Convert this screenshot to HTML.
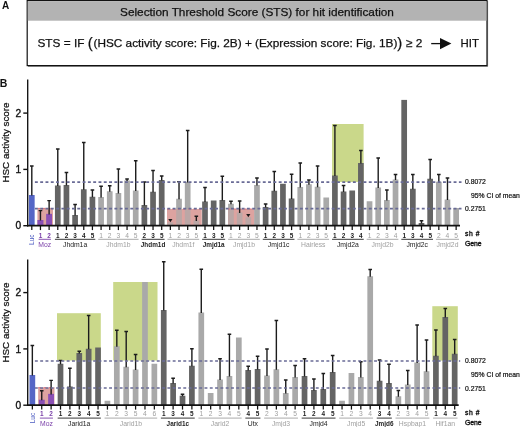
<!DOCTYPE html>
<html><head><meta charset="utf-8"><title>Figure</title>
<style>html,body{margin:0;padding:0;background:#fff}svg{display:block}</style></head>
<body>
<svg width="520" height="427" viewBox="0 0 520 427" font-family="'Liberation Sans', Arial, sans-serif">
<rect width="520" height="427" fill="#fff"/>
<rect x="27.2" y="0.6" width="459.8" height="65" fill="#fff" stroke="#111" stroke-width="1.2"/>
<rect x="27.8" y="1.2" width="458.6" height="19.5" fill="#b3b3b3"/>
<path d="M487.6 1V66.4H28" stroke="#333" stroke-width="1" fill="none" opacity="0.6"/>
<text x="2" y="9" font-size="10" font-weight="bold" fill="#111">A</text>
<text x="-0.3" y="87.2" font-size="10.5" font-weight="bold" fill="#111">B</text>
<text x="257" y="15.6" text-anchor="middle" font-size="11.8" fill="#111" stroke="#111" stroke-width="0.25">Selection Threshold Score (STS) for hit identification</text>
<text x="37.5" y="47.2" font-size="11.8" fill="#111" stroke="#111" stroke-width="0.25">STS = IF <tspan font-size="15" dy="1.2">(</tspan><tspan dy="-1.2" dx="0.8">(HSC activity score: Fig. 2B) + (Expression score: Fig. 1B)</tspan><tspan font-size="15" dy="1.2">)</tspan><tspan dy="-1.2" dx="0.4"> ≥ 2</tspan></text>
<path d="M431.2 43.6H442" stroke="#111" stroke-width="1.3"/><path d="M440 37.9L451.4 43.6L440 49.3z" fill="#111"/>
<text x="460.5" y="47.2" font-size="11.4" fill="#111" stroke="#111" stroke-width="0.25">HIT</text>
<rect x="332" y="124" width="31.60" height="58.00" fill="#cad88a"/>
<rect x="37.5" y="208.4" width="15.50" height="17.30" fill="#dea4a0"/>
<rect x="167" y="209" width="34.70" height="16.70" fill="#dea4a0"/>
<rect x="228" y="209" width="26.20" height="16.70" fill="#dea4a0"/>
<rect x="28.95" y="195" width="5.7" height="30.70" fill="#5566c6"/>
<rect x="37.61" y="220" width="5.7" height="5.70" fill="#8a50b4"/>
<rect x="46.27" y="213.9" width="5.7" height="11.80" fill="#8a50b4"/>
<rect x="54.93" y="185.5" width="5.7" height="40.20" fill="#646464"/>
<rect x="63.59" y="185" width="5.7" height="40.70" fill="#646464"/>
<rect x="72.25" y="215" width="5.7" height="10.70" fill="#646464"/>
<rect x="80.91" y="189.25" width="5.7" height="36.45" fill="#646464"/>
<rect x="89.57" y="196.75" width="5.7" height="28.95" fill="#646464"/>
<rect x="98.23" y="197" width="5.7" height="28.70" fill="#a9a9a9"/>
<rect x="106.89" y="191.25" width="5.7" height="34.45" fill="#a9a9a9"/>
<rect x="115.55" y="193" width="5.7" height="32.70" fill="#a9a9a9"/>
<rect x="124.21" y="180.5" width="5.7" height="45.20" fill="#a9a9a9"/>
<rect x="132.87" y="190.5" width="5.7" height="35.20" fill="#a9a9a9"/>
<rect x="141.53" y="205" width="5.7" height="20.70" fill="#646464"/>
<rect x="150.19" y="191.75" width="5.7" height="33.95" fill="#646464"/>
<rect x="158.85" y="180" width="5.7" height="45.70" fill="#646464"/>
<rect x="167.51" y="222.3" width="5.7" height="3.40" fill="#a9a9a9"/>
<rect x="176.17" y="198.75" width="5.7" height="26.95" fill="#a9a9a9"/>
<rect x="184.83" y="182" width="5.7" height="43.70" fill="#a9a9a9"/>
<rect x="193.49" y="220.5" width="5.7" height="5.20" fill="#a9a9a9"/>
<rect x="202.15" y="201.5" width="5.7" height="24.20" fill="#646464"/>
<rect x="210.81" y="200.5" width="5.7" height="25.20" fill="#646464"/>
<rect x="219.47" y="200" width="5.7" height="25.70" fill="#646464"/>
<rect x="228.13" y="203.75" width="5.7" height="21.95" fill="#a9a9a9"/>
<rect x="236.79" y="212.5" width="5.7" height="13.20" fill="#a9a9a9"/>
<rect x="245.45" y="217.3" width="5.7" height="8.40" fill="#a9a9a9"/>
<rect x="254.11" y="185" width="5.7" height="40.70" fill="#a9a9a9"/>
<rect x="262.77" y="207" width="5.7" height="18.70" fill="#646464"/>
<rect x="271.43" y="190.75" width="5.7" height="34.95" fill="#646464"/>
<rect x="280.09" y="183.75" width="5.7" height="41.95" fill="#646464"/>
<rect x="288.75" y="198.5" width="5.7" height="27.20" fill="#646464"/>
<rect x="297.41" y="187" width="5.7" height="38.70" fill="#a9a9a9"/>
<rect x="306.07" y="184.25" width="5.7" height="41.45" fill="#a9a9a9"/>
<rect x="314.73" y="186.75" width="5.7" height="38.95" fill="#a9a9a9"/>
<rect x="323.39" y="197.5" width="5.7" height="28.20" fill="#a9a9a9"/>
<rect x="332.05" y="175.5" width="5.7" height="50.20" fill="#646464"/>
<rect x="340.71" y="191.5" width="5.7" height="34.20" fill="#646464"/>
<rect x="349.37" y="190.5" width="5.7" height="35.20" fill="#646464"/>
<rect x="358.03" y="163" width="5.7" height="62.70" fill="#646464"/>
<rect x="366.69" y="201.25" width="5.7" height="24.45" fill="#a9a9a9"/>
<rect x="375.35" y="187.5" width="5.7" height="38.20" fill="#a9a9a9"/>
<rect x="384.01" y="200" width="5.7" height="25.70" fill="#a9a9a9"/>
<rect x="392.67" y="179.5" width="5.7" height="46.20" fill="#a9a9a9"/>
<rect x="401.33" y="99.9" width="5.7" height="125.80" fill="#646464"/>
<rect x="409.99" y="188.75" width="5.7" height="36.95" fill="#646464"/>
<rect x="418.65" y="223" width="5.7" height="2.70" fill="#646464"/>
<rect x="427.31" y="178.75" width="5.7" height="46.95" fill="#646464"/>
<rect x="435.97" y="181.75" width="5.7" height="43.95" fill="#a9a9a9"/>
<rect x="444.63" y="199.5" width="5.7" height="26.20" fill="#a9a9a9"/>
<rect x="453.29" y="208" width="5.7" height="17.70" fill="#a9a9a9"/>
<rect x="37.5" y="208.4" width="15.50" height="17.30" fill="#dea4a0" fill-opacity="0.35"/>
<path d="M37.5 208.4H53" stroke="#d8707c" stroke-width="1" stroke-dasharray="2.6 2.7" fill="none"/>
<rect x="167" y="209" width="34.70" height="16.70" fill="#dea4a0" fill-opacity="0.35"/>
<path d="M167 209H201.7" stroke="#d8707c" stroke-width="1" stroke-dasharray="2.6 2.7" fill="none"/>
<rect x="228" y="209" width="26.20" height="16.70" fill="#dea4a0" fill-opacity="0.35"/>
<path d="M228 209H254.2" stroke="#d8707c" stroke-width="1" stroke-dasharray="2.6 2.7" fill="none"/>
<rect x="37.61" y="220" width="5.7" height="5.70" fill="#8a50b4"/>
<rect x="46.27" y="213.9" width="5.7" height="11.80" fill="#8a50b4"/>
<path d="M31.80 195.5V166M30.00 166h3.6" stroke="#1c1c1c" stroke-width="1.4" fill="none"/>
<path d="M40.46 220.5V210.6M38.66 210.6h3.6" stroke="#1c1c1c" stroke-width="1.4" fill="none"/>
<path d="M49.12 214.4V200.6M47.32 200.6h3.6" stroke="#1c1c1c" stroke-width="1.4" fill="none"/>
<path d="M57.78 186.0V149M55.98 149h3.6" stroke="#1c1c1c" stroke-width="1.4" fill="none"/>
<path d="M66.44 185.5V172.5M64.64 172.5h3.6" stroke="#1c1c1c" stroke-width="1.4" fill="none"/>
<path d="M75.10 215.5V204.5M73.30 204.5h3.6" stroke="#1c1c1c" stroke-width="1.4" fill="none"/>
<path d="M83.76 189.75V142.5M81.96 142.5h3.6" stroke="#1c1c1c" stroke-width="1.4" fill="none"/>
<path d="M92.42 197.25V190M90.62 190h3.6" stroke="#1c1c1c" stroke-width="1.4" fill="none"/>
<path d="M101.08 197.5V186.25M99.28 186.25h3.6" stroke="#1c1c1c" stroke-width="1.4" fill="none"/>
<path d="M109.74 191.75V185.75M107.94 185.75h3.6" stroke="#1c1c1c" stroke-width="1.4" fill="none"/>
<path d="M118.40 193.5V169M116.60 169h3.6" stroke="#1c1c1c" stroke-width="1.4" fill="none"/>
<path d="M127.06 181.0V179M125.26 179h3.6" stroke="#1c1c1c" stroke-width="1.4" fill="none"/>
<path d="M135.72 191.0V160.75M133.92 160.75h3.6" stroke="#1c1c1c" stroke-width="1.4" fill="none"/>
<path d="M144.38 205.5V182M142.58 182h3.6" stroke="#1c1c1c" stroke-width="1.4" fill="none"/>
<path d="M153.04 192.25V170.5M151.24 170.5h3.6" stroke="#1c1c1c" stroke-width="1.4" fill="none"/>
<path d="M161.70 180.5V176M159.90 176h3.6" stroke="#1c1c1c" stroke-width="1.4" fill="none"/>
<path d="M168.26 219.10h4.2l-2.1 3.1z" fill="#1a1a1a"/>
<path d="M179.02 199.25V181.75M177.22 181.75h3.6" stroke="#1c1c1c" stroke-width="1.4" fill="none"/>
<path d="M187.68 182.5V130.5M185.88 130.5h3.6" stroke="#1c1c1c" stroke-width="1.4" fill="none"/>
<path d="M196.34 221.0V216.2M194.54 216.2h3.6" stroke="#1c1c1c" stroke-width="1.4" fill="none"/>
<path d="M205.00 202.0V187.5M203.20 187.5h3.6" stroke="#1c1c1c" stroke-width="1.4" fill="none"/>
<path d="M222.32 200.5V176.25M220.52 176.25h3.6" stroke="#1c1c1c" stroke-width="1.4" fill="none"/>
<path d="M230.98 204.25V201.25M229.18 201.25h3.6" stroke="#1c1c1c" stroke-width="1.4" fill="none"/>
<path d="M239.64 213.0V201M237.84 201h3.6" stroke="#1c1c1c" stroke-width="1.4" fill="none"/>
<path d="M246.20 214.10h4.2l-2.1 3.1z" fill="#1a1a1a"/>
<path d="M256.96 185.5V178M255.16 178h3.6" stroke="#1c1c1c" stroke-width="1.4" fill="none"/>
<path d="M265.62 207.5V204M263.82 204h3.6" stroke="#1c1c1c" stroke-width="1.4" fill="none"/>
<path d="M274.28 191.25V171.5M272.48 171.5h3.6" stroke="#1c1c1c" stroke-width="1.4" fill="none"/>
<path d="M291.60 199.0V174.25M289.80 174.25h3.6" stroke="#1c1c1c" stroke-width="1.4" fill="none"/>
<path d="M300.26 187.5V163M298.46 163h3.6" stroke="#1c1c1c" stroke-width="1.4" fill="none"/>
<path d="M308.92 184.75V180M307.12 180h3.6" stroke="#1c1c1c" stroke-width="1.4" fill="none"/>
<path d="M317.58 187.25V166M315.78 166h3.6" stroke="#1c1c1c" stroke-width="1.4" fill="none"/>
<path d="M334.90 176.0V125.5M333.10 125.5h3.6" stroke="#1c1c1c" stroke-width="1.4" fill="none"/>
<path d="M343.56 192.0V185.5M341.76 185.5h3.6" stroke="#1c1c1c" stroke-width="1.4" fill="none"/>
<path d="M360.88 163.5V150.5M359.08 150.5h3.6" stroke="#1c1c1c" stroke-width="1.4" fill="none"/>
<path d="M378.20 188.0V158M376.40 158h3.6" stroke="#1c1c1c" stroke-width="1.4" fill="none"/>
<path d="M386.86 200.5V190M385.06 190h3.6" stroke="#1c1c1c" stroke-width="1.4" fill="none"/>
<path d="M395.52 180.0V174.5M393.72 174.5h3.6" stroke="#1c1c1c" stroke-width="1.4" fill="none"/>
<path d="M412.84 189.25V174.5M411.04 174.5h3.6" stroke="#1c1c1c" stroke-width="1.4" fill="none"/>
<path d="M421.50 223.5V220.75M419.70 220.75h3.6" stroke="#1c1c1c" stroke-width="1.4" fill="none"/>
<path d="M430.16 179.25V159.5M428.36 159.5h3.6" stroke="#1c1c1c" stroke-width="1.4" fill="none"/>
<path d="M438.82 182.25V174.5M437.02 174.5h3.6" stroke="#1c1c1c" stroke-width="1.4" fill="none"/>
<path d="M447.48 200.0V178M445.68 178h3.6" stroke="#1c1c1c" stroke-width="1.4" fill="none"/>
<path d="M34.9 182.2H461.5" stroke="#696b96" stroke-width="1.7" stroke-dasharray="2.9 2.4" fill="none"/>
<path d="M34.9 208.6H461.5" stroke="#696b96" stroke-width="1.7" stroke-dasharray="2.9 2.4" fill="none"/>
<path d="M27.7 79.5V226.6" stroke="#111" stroke-width="1.35" fill="none"/>
<path d="M27 225.7H460.0" stroke="#111" stroke-width="1.8" fill="none"/>
<path d="M23.3 225.70H27.6" stroke="#111" stroke-width="1.4"/>
<text x="21.2" y="229.45" text-anchor="end" font-size="10.2" fill="#111" stroke="#111" stroke-width="0.35">0</text>
<path d="M23.3 169.40H27.6" stroke="#111" stroke-width="1.4"/>
<text x="21.2" y="173.15" text-anchor="end" font-size="10.2" fill="#111" stroke="#111" stroke-width="0.35">1</text>
<path d="M23.3 113.10H27.6" stroke="#111" stroke-width="1.4"/>
<text x="21.2" y="116.85" text-anchor="end" font-size="10.2" fill="#111" stroke="#111" stroke-width="0.35">2</text>
<path d="M31.80 225.7v4.4" stroke="#111" stroke-width="1.25"/>
<text transform="translate(34.20 245.00) rotate(-90)" font-size="6.6" fill="#4a5ac0">Luc</text>
<path d="M40.46 225.7v4.4" stroke="#111" stroke-width="1.25"/>
<text x="40.46" y="238.40" text-anchor="middle" font-size="6.4" font-weight="bold" fill="#7a3fa8">1</text>
<path d="M49.12 225.7v4.4" stroke="#111" stroke-width="1.25"/>
<text x="49.12" y="238.40" text-anchor="middle" font-size="6.4" font-weight="bold" fill="#7a3fa8">2</text>
<path d="M38.61 239.30H50.97" stroke="#7a3fa8" stroke-width="0.9"/>
<text x="44.79" y="247.00" text-anchor="middle" font-size="6.8" font-weight="normal" fill="#7a3fa8">Moz</text>
<path d="M57.78 225.7v4.4" stroke="#111" stroke-width="1.25"/>
<text x="57.78" y="238.40" text-anchor="middle" font-size="6.4" font-weight="bold" fill="#222">1</text>
<path d="M66.44 225.7v4.4" stroke="#111" stroke-width="1.25"/>
<text x="66.44" y="238.40" text-anchor="middle" font-size="6.4" font-weight="bold" fill="#222">2</text>
<path d="M75.10 225.7v4.4" stroke="#111" stroke-width="1.25"/>
<text x="75.10" y="238.40" text-anchor="middle" font-size="6.4" font-weight="bold" fill="#222">3</text>
<path d="M83.76 225.7v4.4" stroke="#111" stroke-width="1.25"/>
<text x="83.76" y="238.40" text-anchor="middle" font-size="6.4" font-weight="bold" fill="#222">4</text>
<path d="M92.42 225.7v4.4" stroke="#111" stroke-width="1.25"/>
<text x="92.42" y="238.40" text-anchor="middle" font-size="6.4" font-weight="bold" fill="#222">5</text>
<path d="M54.93 239.30H95.27" stroke="#222" stroke-width="0.9"/>
<text x="75.10" y="247.00" text-anchor="middle" font-size="6.8" font-weight="normal" fill="#222">Jhdm1a</text>
<path d="M101.08 225.7v4.4" stroke="#111" stroke-width="1.25"/>
<text x="101.08" y="238.40" text-anchor="middle" font-size="6.7" font-weight="normal" fill="#a0a0a0">1</text>
<path d="M109.74 225.7v4.4" stroke="#111" stroke-width="1.25"/>
<text x="109.74" y="238.40" text-anchor="middle" font-size="6.7" font-weight="normal" fill="#a0a0a0">2</text>
<path d="M118.40 225.7v4.4" stroke="#111" stroke-width="1.25"/>
<text x="118.40" y="238.40" text-anchor="middle" font-size="6.7" font-weight="normal" fill="#a0a0a0">3</text>
<path d="M127.06 225.7v4.4" stroke="#111" stroke-width="1.25"/>
<text x="127.06" y="238.40" text-anchor="middle" font-size="6.7" font-weight="normal" fill="#a0a0a0">4</text>
<path d="M135.72 225.7v4.4" stroke="#111" stroke-width="1.25"/>
<text x="135.72" y="238.40" text-anchor="middle" font-size="6.7" font-weight="normal" fill="#a0a0a0">5</text>
<path d="M98.23 239.30H138.57" stroke="#a0a0a0" stroke-width="0.9"/>
<text x="118.40" y="247.00" text-anchor="middle" font-size="6.8" font-weight="normal" fill="#a0a0a0">Jhdm1b</text>
<path d="M144.38 225.7v4.4" stroke="#111" stroke-width="1.25"/>
<text x="144.38" y="238.40" text-anchor="middle" font-size="6.4" font-weight="bold" fill="#222">2</text>
<path d="M153.04 225.7v4.4" stroke="#111" stroke-width="1.25"/>
<text x="153.04" y="238.40" text-anchor="middle" font-size="6.4" font-weight="bold" fill="#222">3</text>
<path d="M161.70 225.7v4.4" stroke="#111" stroke-width="1.25"/>
<text x="161.70" y="238.40" text-anchor="middle" font-size="6.4" font-weight="bold" fill="#222">5</text>
<path d="M141.53 239.30H164.55" stroke="#222" stroke-width="0.9"/>
<text x="153.04" y="247.00" text-anchor="middle" font-size="6.4" font-weight="bold" fill="#222">Jhdm1d</text>
<path d="M170.36 225.7v4.4" stroke="#111" stroke-width="1.25"/>
<text x="170.36" y="238.40" text-anchor="middle" font-size="6.7" font-weight="normal" fill="#a0a0a0">1</text>
<path d="M179.02 225.7v4.4" stroke="#111" stroke-width="1.25"/>
<text x="179.02" y="238.40" text-anchor="middle" font-size="6.7" font-weight="normal" fill="#a0a0a0">2</text>
<path d="M187.68 225.7v4.4" stroke="#111" stroke-width="1.25"/>
<text x="187.68" y="238.40" text-anchor="middle" font-size="6.7" font-weight="normal" fill="#a0a0a0">3</text>
<path d="M196.34 225.7v4.4" stroke="#111" stroke-width="1.25"/>
<text x="196.34" y="238.40" text-anchor="middle" font-size="6.7" font-weight="normal" fill="#a0a0a0">5</text>
<path d="M167.51 239.30H199.19" stroke="#a0a0a0" stroke-width="0.9"/>
<text x="183.35" y="247.00" text-anchor="middle" font-size="6.8" font-weight="normal" fill="#a0a0a0">Jhdm1f</text>
<path d="M205.00 225.7v4.4" stroke="#111" stroke-width="1.25"/>
<text x="205.00" y="238.40" text-anchor="middle" font-size="6.4" font-weight="bold" fill="#222">1</text>
<path d="M213.66 225.7v4.4" stroke="#111" stroke-width="1.25"/>
<text x="213.66" y="238.40" text-anchor="middle" font-size="6.4" font-weight="bold" fill="#222">3</text>
<path d="M222.32 225.7v4.4" stroke="#111" stroke-width="1.25"/>
<text x="222.32" y="238.40" text-anchor="middle" font-size="6.4" font-weight="bold" fill="#222">5</text>
<path d="M202.15 239.30H225.17" stroke="#222" stroke-width="0.9"/>
<text x="213.66" y="247.00" text-anchor="middle" font-size="6.4" font-weight="bold" fill="#222">Jmjd1a</text>
<path d="M230.98 225.7v4.4" stroke="#111" stroke-width="1.25"/>
<text x="230.98" y="238.40" text-anchor="middle" font-size="6.7" font-weight="normal" fill="#a0a0a0">1</text>
<path d="M239.64 225.7v4.4" stroke="#111" stroke-width="1.25"/>
<text x="239.64" y="238.40" text-anchor="middle" font-size="6.7" font-weight="normal" fill="#a0a0a0">2</text>
<path d="M248.30 225.7v4.4" stroke="#111" stroke-width="1.25"/>
<text x="248.30" y="238.40" text-anchor="middle" font-size="6.7" font-weight="normal" fill="#a0a0a0">3</text>
<path d="M256.96 225.7v4.4" stroke="#111" stroke-width="1.25"/>
<text x="256.96" y="238.40" text-anchor="middle" font-size="6.7" font-weight="normal" fill="#a0a0a0">5</text>
<path d="M228.13 239.30H259.81" stroke="#a0a0a0" stroke-width="0.9"/>
<text x="243.97" y="247.00" text-anchor="middle" font-size="6.8" font-weight="normal" fill="#a0a0a0">Jmjd1b</text>
<path d="M265.62 225.7v4.4" stroke="#111" stroke-width="1.25"/>
<text x="265.62" y="238.40" text-anchor="middle" font-size="6.4" font-weight="bold" fill="#222">1</text>
<path d="M274.28 225.7v4.4" stroke="#111" stroke-width="1.25"/>
<text x="274.28" y="238.40" text-anchor="middle" font-size="6.4" font-weight="bold" fill="#222">2</text>
<path d="M282.94 225.7v4.4" stroke="#111" stroke-width="1.25"/>
<text x="282.94" y="238.40" text-anchor="middle" font-size="6.4" font-weight="bold" fill="#222">3</text>
<path d="M291.60 225.7v4.4" stroke="#111" stroke-width="1.25"/>
<text x="291.60" y="238.40" text-anchor="middle" font-size="6.4" font-weight="bold" fill="#222">5</text>
<path d="M262.77 239.30H294.45" stroke="#222" stroke-width="0.9"/>
<text x="278.61" y="247.00" text-anchor="middle" font-size="6.8" font-weight="normal" fill="#222">Jmjd1c</text>
<path d="M300.26 225.7v4.4" stroke="#111" stroke-width="1.25"/>
<text x="300.26" y="238.40" text-anchor="middle" font-size="6.7" font-weight="normal" fill="#a0a0a0">1</text>
<path d="M308.92 225.7v4.4" stroke="#111" stroke-width="1.25"/>
<text x="308.92" y="238.40" text-anchor="middle" font-size="6.7" font-weight="normal" fill="#a0a0a0">2</text>
<path d="M317.58 225.7v4.4" stroke="#111" stroke-width="1.25"/>
<text x="317.58" y="238.40" text-anchor="middle" font-size="6.7" font-weight="normal" fill="#a0a0a0">3</text>
<path d="M326.24 225.7v4.4" stroke="#111" stroke-width="1.25"/>
<text x="326.24" y="238.40" text-anchor="middle" font-size="6.7" font-weight="normal" fill="#a0a0a0">5</text>
<path d="M297.41 239.30H329.09" stroke="#a0a0a0" stroke-width="0.9"/>
<text x="313.25" y="247.00" text-anchor="middle" font-size="6.8" font-weight="normal" fill="#a0a0a0">Hairless</text>
<path d="M334.90 225.7v4.4" stroke="#111" stroke-width="1.25"/>
<text x="334.90" y="238.40" text-anchor="middle" font-size="6.4" font-weight="bold" fill="#222">1</text>
<path d="M343.56 225.7v4.4" stroke="#111" stroke-width="1.25"/>
<text x="343.56" y="238.40" text-anchor="middle" font-size="6.4" font-weight="bold" fill="#222">2</text>
<path d="M352.22 225.7v4.4" stroke="#111" stroke-width="1.25"/>
<text x="352.22" y="238.40" text-anchor="middle" font-size="6.4" font-weight="bold" fill="#222">3</text>
<path d="M360.88 225.7v4.4" stroke="#111" stroke-width="1.25"/>
<text x="360.88" y="238.40" text-anchor="middle" font-size="6.4" font-weight="bold" fill="#222">4</text>
<path d="M332.05 239.30H363.73" stroke="#222" stroke-width="0.9"/>
<text x="347.89" y="247.00" text-anchor="middle" font-size="6.8" font-weight="normal" fill="#222">Jmjd2a</text>
<path d="M369.54 225.7v4.4" stroke="#111" stroke-width="1.25"/>
<text x="369.54" y="238.40" text-anchor="middle" font-size="6.7" font-weight="normal" fill="#a0a0a0">1</text>
<path d="M378.20 225.7v4.4" stroke="#111" stroke-width="1.25"/>
<text x="378.20" y="238.40" text-anchor="middle" font-size="6.7" font-weight="normal" fill="#a0a0a0">2</text>
<path d="M386.86 225.7v4.4" stroke="#111" stroke-width="1.25"/>
<text x="386.86" y="238.40" text-anchor="middle" font-size="6.7" font-weight="normal" fill="#a0a0a0">3</text>
<path d="M395.52 225.7v4.4" stroke="#111" stroke-width="1.25"/>
<text x="395.52" y="238.40" text-anchor="middle" font-size="6.7" font-weight="normal" fill="#a0a0a0">4</text>
<path d="M366.69 239.30H398.37" stroke="#a0a0a0" stroke-width="0.9"/>
<text x="382.53" y="247.00" text-anchor="middle" font-size="6.8" font-weight="normal" fill="#a0a0a0">Jmjd2b</text>
<path d="M404.18 225.7v4.4" stroke="#111" stroke-width="1.25"/>
<text x="404.18" y="238.40" text-anchor="middle" font-size="6.4" font-weight="bold" fill="#222">1</text>
<path d="M412.84 225.7v4.4" stroke="#111" stroke-width="1.25"/>
<text x="412.84" y="238.40" text-anchor="middle" font-size="6.4" font-weight="bold" fill="#222">3</text>
<path d="M421.50 225.7v4.4" stroke="#111" stroke-width="1.25"/>
<text x="421.50" y="238.40" text-anchor="middle" font-size="6.4" font-weight="bold" fill="#222">4</text>
<path d="M430.16 225.7v4.4" stroke="#111" stroke-width="1.25"/>
<text x="430.16" y="238.40" text-anchor="middle" font-size="6.4" font-weight="bold" fill="#222">5</text>
<path d="M401.33 239.30H433.01" stroke="#222" stroke-width="0.9"/>
<text x="417.17" y="247.00" text-anchor="middle" font-size="6.8" font-weight="normal" fill="#222">Jmjd2c</text>
<path d="M438.82 225.7v4.4" stroke="#111" stroke-width="1.25"/>
<text x="438.82" y="238.40" text-anchor="middle" font-size="6.7" font-weight="normal" fill="#a0a0a0">2</text>
<path d="M447.48 225.7v4.4" stroke="#111" stroke-width="1.25"/>
<text x="447.48" y="238.40" text-anchor="middle" font-size="6.7" font-weight="normal" fill="#a0a0a0">4</text>
<path d="M456.14 225.7v4.4" stroke="#111" stroke-width="1.25"/>
<text x="456.14" y="238.40" text-anchor="middle" font-size="6.7" font-weight="normal" fill="#a0a0a0">5</text>
<path d="M435.97 239.30H458.99" stroke="#a0a0a0" stroke-width="0.9"/>
<text x="447.48" y="247.00" text-anchor="middle" font-size="6.8" font-weight="normal" fill="#a0a0a0">Jmjd2d</text>
<text transform="translate(8.8 142.5) rotate(-90)" text-anchor="middle" font-size="9.8" fill="#111" stroke="#111" stroke-width="0.25">HSC activity score</text>
<text x="465" y="184.39999999999998" font-size="6.8" fill="#111" stroke="#111" stroke-width="0.2">0.8072</text>
<text x="471" y="197.70" font-size="6.8" fill="#111" stroke="#111" stroke-width="0.2">95% CI of mean</text>
<text x="465" y="211.1" font-size="6.8" fill="#111" stroke="#111" stroke-width="0.2">0.2751</text>
<text x="465" y="236.40" font-size="6.8" fill="#111" stroke="#111" stroke-width="0.35" textLength="14.5">sh #</text>
<text x="465" y="246.40" font-size="6.8" fill="#111" stroke="#111" stroke-width="0.35">Gene</text>
<rect x="57" y="313.2" width="43.80" height="47.30" fill="#cad88a"/>
<rect x="113.2" y="282" width="44.30" height="78.50" fill="#cad88a"/>
<rect x="432.3" y="306.2" width="25.50" height="54.40" fill="#cad88a"/>
<rect x="38.2" y="387.7" width="16.20" height="17.50" fill="#dea4a0"/>
<rect x="29.50" y="375" width="5.7" height="30.20" fill="#5566c6"/>
<rect x="38.88" y="399.8" width="5.7" height="5.40" fill="#8a50b4"/>
<rect x="48.27" y="393.9" width="5.7" height="11.30" fill="#8a50b4"/>
<rect x="57.66" y="363.75" width="5.7" height="41.45" fill="#646464"/>
<rect x="67.04" y="386.5" width="5.7" height="18.70" fill="#646464"/>
<rect x="76.43" y="353" width="5.7" height="52.20" fill="#646464"/>
<rect x="85.81" y="348.75" width="5.7" height="56.45" fill="#646464"/>
<rect x="95.19" y="347.5" width="5.7" height="57.70" fill="#646464"/>
<rect x="104.58" y="400.75" width="5.7" height="4.45" fill="#a9a9a9"/>
<rect x="113.97" y="346.25" width="5.7" height="58.95" fill="#a9a9a9"/>
<rect x="123.35" y="366.75" width="5.7" height="38.45" fill="#a9a9a9"/>
<rect x="132.74" y="369.5" width="5.7" height="35.70" fill="#a9a9a9"/>
<rect x="142.12" y="282" width="5.7" height="123.20" fill="#a9a9a9"/>
<rect x="151.50" y="363.75" width="5.7" height="41.45" fill="#a9a9a9"/>
<rect x="160.89" y="310" width="5.7" height="95.20" fill="#646464"/>
<rect x="170.28" y="383" width="5.7" height="22.20" fill="#646464"/>
<rect x="179.66" y="395.75" width="5.7" height="9.45" fill="#646464"/>
<rect x="189.04" y="365.75" width="5.7" height="39.45" fill="#646464"/>
<rect x="198.43" y="312.5" width="5.7" height="92.70" fill="#a9a9a9"/>
<rect x="207.81" y="393" width="5.7" height="12.20" fill="#a9a9a9"/>
<rect x="217.20" y="379.5" width="5.7" height="25.70" fill="#a9a9a9"/>
<rect x="226.59" y="376" width="5.7" height="29.20" fill="#a9a9a9"/>
<rect x="235.97" y="337.5" width="5.7" height="67.70" fill="#a9a9a9"/>
<rect x="245.35" y="370" width="5.7" height="35.20" fill="#646464"/>
<rect x="254.74" y="369" width="5.7" height="36.20" fill="#646464"/>
<rect x="264.12" y="375.5" width="5.7" height="29.70" fill="#a9a9a9"/>
<rect x="273.51" y="369.25" width="5.7" height="35.95" fill="#a9a9a9"/>
<rect x="282.89" y="393" width="5.7" height="12.20" fill="#a9a9a9"/>
<rect x="292.28" y="377" width="5.7" height="28.20" fill="#a9a9a9"/>
<rect x="301.67" y="376" width="5.7" height="29.20" fill="#646464"/>
<rect x="311.05" y="390" width="5.7" height="15.20" fill="#646464"/>
<rect x="320.44" y="389" width="5.7" height="16.20" fill="#646464"/>
<rect x="329.82" y="372" width="5.7" height="33.20" fill="#646464"/>
<rect x="339.20" y="400.75" width="5.7" height="4.45" fill="#a9a9a9"/>
<rect x="348.59" y="373" width="5.7" height="32.20" fill="#a9a9a9"/>
<rect x="357.97" y="377" width="5.7" height="28.20" fill="#a9a9a9"/>
<rect x="367.36" y="276.25" width="5.7" height="128.95" fill="#a9a9a9"/>
<rect x="376.75" y="380.75" width="5.7" height="24.45" fill="#646464"/>
<rect x="386.13" y="383" width="5.7" height="22.20" fill="#646464"/>
<rect x="395.51" y="396.25" width="5.7" height="8.95" fill="#a9a9a9"/>
<rect x="404.90" y="384.5" width="5.7" height="20.70" fill="#a9a9a9"/>
<rect x="414.28" y="362.5" width="5.7" height="42.70" fill="#a9a9a9"/>
<rect x="423.67" y="371.25" width="5.7" height="33.95" fill="#a9a9a9"/>
<rect x="433.06" y="355.75" width="5.7" height="49.45" fill="#646464"/>
<rect x="442.44" y="317" width="5.7" height="88.20" fill="#646464"/>
<rect x="451.82" y="353.75" width="5.7" height="51.45" fill="#646464"/>
<rect x="38.2" y="387.7" width="16.20" height="17.50" fill="#dea4a0" fill-opacity="0.35"/>
<path d="M38.2 387.7H54.4" stroke="#d8707c" stroke-width="1" stroke-dasharray="2.6 2.7" fill="none"/>
<rect x="38.88" y="399.8" width="5.7" height="5.40" fill="#8a50b4"/>
<rect x="48.27" y="393.9" width="5.7" height="11.30" fill="#8a50b4"/>
<path d="M32.35 375.5V345.5M30.55 345.5h3.6" stroke="#1c1c1c" stroke-width="1.4" fill="none"/>
<path d="M41.73 400.3V390.8M39.94 390.8h3.6" stroke="#1c1c1c" stroke-width="1.4" fill="none"/>
<path d="M51.12 394.4V380.4M49.32 380.4h3.6" stroke="#1c1c1c" stroke-width="1.4" fill="none"/>
<path d="M60.51 364.25V360.5M58.71 360.5h3.6" stroke="#1c1c1c" stroke-width="1.4" fill="none"/>
<path d="M69.89 387.0V368.25M68.09 368.25h3.6" stroke="#1c1c1c" stroke-width="1.4" fill="none"/>
<path d="M79.28 353.5V351.25M77.48 351.25h3.6" stroke="#1c1c1c" stroke-width="1.4" fill="none"/>
<path d="M88.66 349.25V315.5M86.86 315.5h3.6" stroke="#1c1c1c" stroke-width="1.4" fill="none"/>
<path d="M116.81 346.75V330.3M115.02 330.3h3.6" stroke="#1c1c1c" stroke-width="1.4" fill="none"/>
<path d="M126.20 367.25V331.5M124.40 331.5h3.6" stroke="#1c1c1c" stroke-width="1.4" fill="none"/>
<path d="M135.59 370.0V354.5M133.78 354.5h3.6" stroke="#1c1c1c" stroke-width="1.4" fill="none"/>
<path d="M163.74 310.5V261.75M161.94 261.75h3.6" stroke="#1c1c1c" stroke-width="1.4" fill="none"/>
<path d="M173.12 383.5V378.25M171.32 378.25h3.6" stroke="#1c1c1c" stroke-width="1.4" fill="none"/>
<path d="M182.51 396.25V394.25M180.71 394.25h3.6" stroke="#1c1c1c" stroke-width="1.4" fill="none"/>
<path d="M191.89 366.25V348.75M190.09 348.75h3.6" stroke="#1c1c1c" stroke-width="1.4" fill="none"/>
<path d="M201.28 313.0V269.25M199.48 269.25h3.6" stroke="#1c1c1c" stroke-width="1.4" fill="none"/>
<path d="M220.05 380.0V358.75M218.25 358.75h3.6" stroke="#1c1c1c" stroke-width="1.4" fill="none"/>
<path d="M229.44 376.5V334.25M227.63 334.25h3.6" stroke="#1c1c1c" stroke-width="1.4" fill="none"/>
<path d="M248.20 370.5V366.25M246.40 366.25h3.6" stroke="#1c1c1c" stroke-width="1.4" fill="none"/>
<path d="M257.59 369.5V356.25M255.79 356.25h3.6" stroke="#1c1c1c" stroke-width="1.4" fill="none"/>
<path d="M266.98 376.0V349M265.18 349h3.6" stroke="#1c1c1c" stroke-width="1.4" fill="none"/>
<path d="M276.36 369.75V320.5M274.56 320.5h3.6" stroke="#1c1c1c" stroke-width="1.4" fill="none"/>
<path d="M285.75 393.5V380M283.94 380h3.6" stroke="#1c1c1c" stroke-width="1.4" fill="none"/>
<path d="M295.13 377.5V365.5M293.33 365.5h3.6" stroke="#1c1c1c" stroke-width="1.4" fill="none"/>
<path d="M304.52 376.5V358.75M302.72 358.75h3.6" stroke="#1c1c1c" stroke-width="1.4" fill="none"/>
<path d="M313.90 390.5V379M312.10 379h3.6" stroke="#1c1c1c" stroke-width="1.4" fill="none"/>
<path d="M323.29 389.5V373.5M321.49 373.5h3.6" stroke="#1c1c1c" stroke-width="1.4" fill="none"/>
<path d="M332.67 372.5V355.5M330.87 355.5h3.6" stroke="#1c1c1c" stroke-width="1.4" fill="none"/>
<path d="M360.82 377.5V361.75M359.02 361.75h3.6" stroke="#1c1c1c" stroke-width="1.4" fill="none"/>
<path d="M370.21 276.75V269.5M368.41 269.5h3.6" stroke="#1c1c1c" stroke-width="1.4" fill="none"/>
<path d="M379.60 381.25V360M377.80 360h3.6" stroke="#1c1c1c" stroke-width="1.4" fill="none"/>
<path d="M388.98 383.5V364.25M387.18 364.25h3.6" stroke="#1c1c1c" stroke-width="1.4" fill="none"/>
<path d="M398.37 396.75V390.5M396.56 390.5h3.6" stroke="#1c1c1c" stroke-width="1.4" fill="none"/>
<path d="M407.75 385.0V370.5M405.95 370.5h3.6" stroke="#1c1c1c" stroke-width="1.4" fill="none"/>
<path d="M417.13 363.0V325M415.33 325h3.6" stroke="#1c1c1c" stroke-width="1.4" fill="none"/>
<path d="M426.52 371.75V340M424.72 340h3.6" stroke="#1c1c1c" stroke-width="1.4" fill="none"/>
<path d="M435.91 356.25V330M434.11 330h3.6" stroke="#1c1c1c" stroke-width="1.4" fill="none"/>
<path d="M445.29 317.5V308.5M443.49 308.5h3.6" stroke="#1c1c1c" stroke-width="1.4" fill="none"/>
<path d="M454.68 354.25V339.5M452.88 339.5h3.6" stroke="#1c1c1c" stroke-width="1.4" fill="none"/>
<path d="M34.9 361.0H460.2" stroke="#696b96" stroke-width="1.7" stroke-dasharray="2.9 2.4" fill="none"/>
<path d="M34.9 388.0H460.2" stroke="#696b96" stroke-width="1.7" stroke-dasharray="2.9 2.4" fill="none"/>
<path d="M27.7 259.5V406.09999999999997" stroke="#111" stroke-width="1.35" fill="none"/>
<path d="M27 405.2H458.7" stroke="#111" stroke-width="1.8" fill="none"/>
<path d="M23.3 405.20H27.6" stroke="#111" stroke-width="1.4"/>
<text x="21.2" y="408.95" text-anchor="end" font-size="10.2" fill="#111" stroke="#111" stroke-width="0.35">0</text>
<path d="M23.3 348.90H27.6" stroke="#111" stroke-width="1.4"/>
<text x="21.2" y="352.65" text-anchor="end" font-size="10.2" fill="#111" stroke="#111" stroke-width="0.35">1</text>
<path d="M23.3 292.60H27.6" stroke="#111" stroke-width="1.4"/>
<text x="21.2" y="296.35" text-anchor="end" font-size="10.2" fill="#111" stroke="#111" stroke-width="0.35">2</text>
<path d="M32.35 405.2v4.4" stroke="#111" stroke-width="1.25"/>
<text transform="translate(34.75 423.30) rotate(-90)" font-size="6.6" fill="#4a5ac0">Luc</text>
<path d="M41.73 405.2v4.4" stroke="#111" stroke-width="1.25"/>
<text x="41.73" y="416.30" text-anchor="middle" font-size="6.4" font-weight="bold" fill="#7a3fa8">1</text>
<path d="M51.12 405.2v4.4" stroke="#111" stroke-width="1.25"/>
<text x="51.12" y="416.30" text-anchor="middle" font-size="6.4" font-weight="bold" fill="#7a3fa8">2</text>
<path d="M39.88 418.10H52.97" stroke="#7a3fa8" stroke-width="0.9"/>
<text x="46.43" y="425.70" text-anchor="middle" font-size="6.8" font-weight="normal" fill="#7a3fa8">Moz</text>
<path d="M60.51 405.2v4.4" stroke="#111" stroke-width="1.25"/>
<text x="60.51" y="416.30" text-anchor="middle" font-size="6.4" font-weight="bold" fill="#222">1</text>
<path d="M69.89 405.2v4.4" stroke="#111" stroke-width="1.25"/>
<text x="69.89" y="416.30" text-anchor="middle" font-size="6.4" font-weight="bold" fill="#222">2</text>
<path d="M79.28 405.2v4.4" stroke="#111" stroke-width="1.25"/>
<text x="79.28" y="416.30" text-anchor="middle" font-size="6.4" font-weight="bold" fill="#222">3</text>
<path d="M88.66 405.2v4.4" stroke="#111" stroke-width="1.25"/>
<text x="88.66" y="416.30" text-anchor="middle" font-size="6.4" font-weight="bold" fill="#222">4</text>
<path d="M98.04 405.2v4.4" stroke="#111" stroke-width="1.25"/>
<text x="98.04" y="416.30" text-anchor="middle" font-size="6.4" font-weight="bold" fill="#222">5</text>
<path d="M57.66 418.10H100.89" stroke="#222" stroke-width="0.9"/>
<text x="79.27" y="425.70" text-anchor="middle" font-size="6.8" font-weight="normal" fill="#222">Jarid1a</text>
<path d="M107.43 405.2v4.4" stroke="#111" stroke-width="1.25"/>
<text x="107.43" y="416.30" text-anchor="middle" font-size="6.7" font-weight="normal" fill="#a0a0a0">1</text>
<path d="M116.81 405.2v4.4" stroke="#111" stroke-width="1.25"/>
<text x="116.81" y="416.30" text-anchor="middle" font-size="6.7" font-weight="normal" fill="#a0a0a0">2</text>
<path d="M126.20 405.2v4.4" stroke="#111" stroke-width="1.25"/>
<text x="126.20" y="416.30" text-anchor="middle" font-size="6.7" font-weight="normal" fill="#a0a0a0">3</text>
<path d="M135.59 405.2v4.4" stroke="#111" stroke-width="1.25"/>
<text x="135.59" y="416.30" text-anchor="middle" font-size="6.7" font-weight="normal" fill="#a0a0a0">5</text>
<path d="M144.97 405.2v4.4" stroke="#111" stroke-width="1.25"/>
<text x="144.97" y="416.30" text-anchor="middle" font-size="6.7" font-weight="normal" fill="#a0a0a0">4</text>
<path d="M154.35 405.2v4.4" stroke="#111" stroke-width="1.25"/>
<text x="154.35" y="416.30" text-anchor="middle" font-size="6.7" font-weight="normal" fill="#a0a0a0">6</text>
<path d="M104.58 418.10H157.20" stroke="#a0a0a0" stroke-width="0.9"/>
<text x="130.89" y="425.70" text-anchor="middle" font-size="6.8" font-weight="normal" fill="#a0a0a0">Jarid1b</text>
<path d="M163.74 405.2v4.4" stroke="#111" stroke-width="1.25"/>
<text x="163.74" y="416.30" text-anchor="middle" font-size="6.4" font-weight="bold" fill="#222">1</text>
<path d="M173.12 405.2v4.4" stroke="#111" stroke-width="1.25"/>
<text x="173.12" y="416.30" text-anchor="middle" font-size="6.4" font-weight="bold" fill="#222">3</text>
<path d="M182.51 405.2v4.4" stroke="#111" stroke-width="1.25"/>
<text x="182.51" y="416.30" text-anchor="middle" font-size="6.4" font-weight="bold" fill="#222">4</text>
<path d="M191.89 405.2v4.4" stroke="#111" stroke-width="1.25"/>
<text x="191.89" y="416.30" text-anchor="middle" font-size="6.4" font-weight="bold" fill="#222">5</text>
<path d="M160.89 418.10H194.74" stroke="#222" stroke-width="0.9"/>
<text x="177.82" y="425.70" text-anchor="middle" font-size="6.4" font-weight="bold" fill="#222">Jarid1c</text>
<path d="M201.28 405.2v4.4" stroke="#111" stroke-width="1.25"/>
<text x="201.28" y="416.30" text-anchor="middle" font-size="6.7" font-weight="normal" fill="#a0a0a0">1</text>
<path d="M210.66 405.2v4.4" stroke="#111" stroke-width="1.25"/>
<text x="210.66" y="416.30" text-anchor="middle" font-size="6.7" font-weight="normal" fill="#a0a0a0">2</text>
<path d="M220.05 405.2v4.4" stroke="#111" stroke-width="1.25"/>
<text x="220.05" y="416.30" text-anchor="middle" font-size="6.7" font-weight="normal" fill="#a0a0a0">3</text>
<path d="M229.44 405.2v4.4" stroke="#111" stroke-width="1.25"/>
<text x="229.44" y="416.30" text-anchor="middle" font-size="6.7" font-weight="normal" fill="#a0a0a0">4</text>
<path d="M238.82 405.2v4.4" stroke="#111" stroke-width="1.25"/>
<text x="238.82" y="416.30" text-anchor="middle" font-size="6.7" font-weight="normal" fill="#a0a0a0">5</text>
<path d="M198.43 418.10H241.67" stroke="#a0a0a0" stroke-width="0.9"/>
<text x="220.05" y="425.70" text-anchor="middle" font-size="6.8" font-weight="normal" fill="#a0a0a0">Jarid2</text>
<path d="M248.20 405.2v4.4" stroke="#111" stroke-width="1.25"/>
<text x="248.20" y="416.30" text-anchor="middle" font-size="6.4" font-weight="bold" fill="#222">4</text>
<path d="M257.59 405.2v4.4" stroke="#111" stroke-width="1.25"/>
<text x="257.59" y="416.30" text-anchor="middle" font-size="6.4" font-weight="bold" fill="#222">5</text>
<path d="M245.35 418.10H260.44" stroke="#222" stroke-width="0.9"/>
<text x="252.90" y="425.70" text-anchor="middle" font-size="6.8" font-weight="normal" fill="#222">Utx</text>
<path d="M266.98 405.2v4.4" stroke="#111" stroke-width="1.25"/>
<text x="266.98" y="416.30" text-anchor="middle" font-size="6.7" font-weight="normal" fill="#a0a0a0">2</text>
<path d="M276.36 405.2v4.4" stroke="#111" stroke-width="1.25"/>
<text x="276.36" y="416.30" text-anchor="middle" font-size="6.7" font-weight="normal" fill="#a0a0a0">3</text>
<path d="M285.75 405.2v4.4" stroke="#111" stroke-width="1.25"/>
<text x="285.75" y="416.30" text-anchor="middle" font-size="6.7" font-weight="normal" fill="#a0a0a0">4</text>
<path d="M295.13 405.2v4.4" stroke="#111" stroke-width="1.25"/>
<text x="295.13" y="416.30" text-anchor="middle" font-size="6.7" font-weight="normal" fill="#a0a0a0">5</text>
<path d="M264.12 418.10H297.98" stroke="#a0a0a0" stroke-width="0.9"/>
<text x="281.05" y="425.70" text-anchor="middle" font-size="6.8" font-weight="normal" fill="#a0a0a0">Jmjd3</text>
<path d="M304.52 405.2v4.4" stroke="#111" stroke-width="1.25"/>
<text x="304.52" y="416.30" text-anchor="middle" font-size="6.4" font-weight="bold" fill="#222">1</text>
<path d="M313.90 405.2v4.4" stroke="#111" stroke-width="1.25"/>
<text x="313.90" y="416.30" text-anchor="middle" font-size="6.4" font-weight="bold" fill="#222">2</text>
<path d="M323.29 405.2v4.4" stroke="#111" stroke-width="1.25"/>
<text x="323.29" y="416.30" text-anchor="middle" font-size="6.4" font-weight="bold" fill="#222">4</text>
<path d="M332.67 405.2v4.4" stroke="#111" stroke-width="1.25"/>
<text x="332.67" y="416.30" text-anchor="middle" font-size="6.4" font-weight="bold" fill="#222">5</text>
<path d="M301.67 418.10H335.52" stroke="#222" stroke-width="0.9"/>
<text x="318.59" y="425.70" text-anchor="middle" font-size="6.8" font-weight="normal" fill="#222">Jmjd4</text>
<path d="M342.06 405.2v4.4" stroke="#111" stroke-width="1.25"/>
<text x="342.06" y="416.30" text-anchor="middle" font-size="6.7" font-weight="normal" fill="#a0a0a0">1</text>
<path d="M351.44 405.2v4.4" stroke="#111" stroke-width="1.25"/>
<text x="351.44" y="416.30" text-anchor="middle" font-size="6.7" font-weight="normal" fill="#a0a0a0">2</text>
<path d="M360.82 405.2v4.4" stroke="#111" stroke-width="1.25"/>
<text x="360.82" y="416.30" text-anchor="middle" font-size="6.7" font-weight="normal" fill="#a0a0a0">3</text>
<path d="M370.21 405.2v4.4" stroke="#111" stroke-width="1.25"/>
<text x="370.21" y="416.30" text-anchor="middle" font-size="6.7" font-weight="normal" fill="#a0a0a0">4</text>
<path d="M339.20 418.10H373.06" stroke="#a0a0a0" stroke-width="0.9"/>
<text x="356.13" y="425.70" text-anchor="middle" font-size="6.8" font-weight="normal" fill="#a0a0a0">Jmjd5</text>
<path d="M379.60 405.2v4.4" stroke="#111" stroke-width="1.25"/>
<text x="379.60" y="416.30" text-anchor="middle" font-size="6.4" font-weight="bold" fill="#222">3</text>
<path d="M388.98 405.2v4.4" stroke="#111" stroke-width="1.25"/>
<text x="388.98" y="416.30" text-anchor="middle" font-size="6.4" font-weight="bold" fill="#222">4</text>
<path d="M376.75 418.10H391.83" stroke="#222" stroke-width="0.9"/>
<text x="384.29" y="425.70" text-anchor="middle" font-size="6.4" font-weight="bold" fill="#222">Jmjd6</text>
<path d="M398.37 405.2v4.4" stroke="#111" stroke-width="1.25"/>
<text x="398.37" y="416.30" text-anchor="middle" font-size="6.7" font-weight="normal" fill="#a0a0a0">2</text>
<path d="M407.75 405.2v4.4" stroke="#111" stroke-width="1.25"/>
<text x="407.75" y="416.30" text-anchor="middle" font-size="6.7" font-weight="normal" fill="#a0a0a0">3</text>
<path d="M417.13 405.2v4.4" stroke="#111" stroke-width="1.25"/>
<text x="417.13" y="416.30" text-anchor="middle" font-size="6.7" font-weight="normal" fill="#a0a0a0">4</text>
<path d="M426.52 405.2v4.4" stroke="#111" stroke-width="1.25"/>
<text x="426.52" y="416.30" text-anchor="middle" font-size="6.7" font-weight="normal" fill="#a0a0a0">5</text>
<path d="M395.51 418.10H429.37" stroke="#a0a0a0" stroke-width="0.9"/>
<text x="412.44" y="425.70" text-anchor="middle" font-size="6.8" font-weight="normal" fill="#a0a0a0">Hspbap1</text>
<path d="M435.91 405.2v4.4" stroke="#111" stroke-width="1.25"/>
<text x="435.91" y="416.30" text-anchor="middle" font-size="6.4" font-weight="bold" fill="#222">1</text>
<path d="M445.29 405.2v4.4" stroke="#111" stroke-width="1.25"/>
<text x="445.29" y="416.30" text-anchor="middle" font-size="6.4" font-weight="bold" fill="#222">4</text>
<path d="M454.68 405.2v4.4" stroke="#111" stroke-width="1.25"/>
<text x="454.68" y="416.30" text-anchor="middle" font-size="6.4" font-weight="bold" fill="#222">5</text>
<path d="M433.06 418.10H457.53" stroke="#a0a0a0" stroke-width="0.9"/>
<text x="445.29" y="425.70" text-anchor="middle" font-size="6.8" font-weight="normal" fill="#a0a0a0">Hif1an</text>
<text transform="translate(8.8 322.5) rotate(-90)" text-anchor="middle" font-size="9.8" fill="#111" stroke="#111" stroke-width="0.25">HSC activity score</text>
<text x="465" y="363.2" font-size="6.8" fill="#111" stroke="#111" stroke-width="0.2">0.8072</text>
<text x="471" y="376.80" font-size="6.8" fill="#111" stroke="#111" stroke-width="0.2">95% CI of mean</text>
<text x="465" y="390.5" font-size="6.8" fill="#111" stroke="#111" stroke-width="0.2">0.2751</text>
<text x="465" y="414.70" font-size="6.8" fill="#111" stroke="#111" stroke-width="0.35" textLength="14.5">sh #</text>
<text x="465" y="424.70" font-size="6.8" fill="#111" stroke="#111" stroke-width="0.35">Gene</text>
</svg>
</body></html>
